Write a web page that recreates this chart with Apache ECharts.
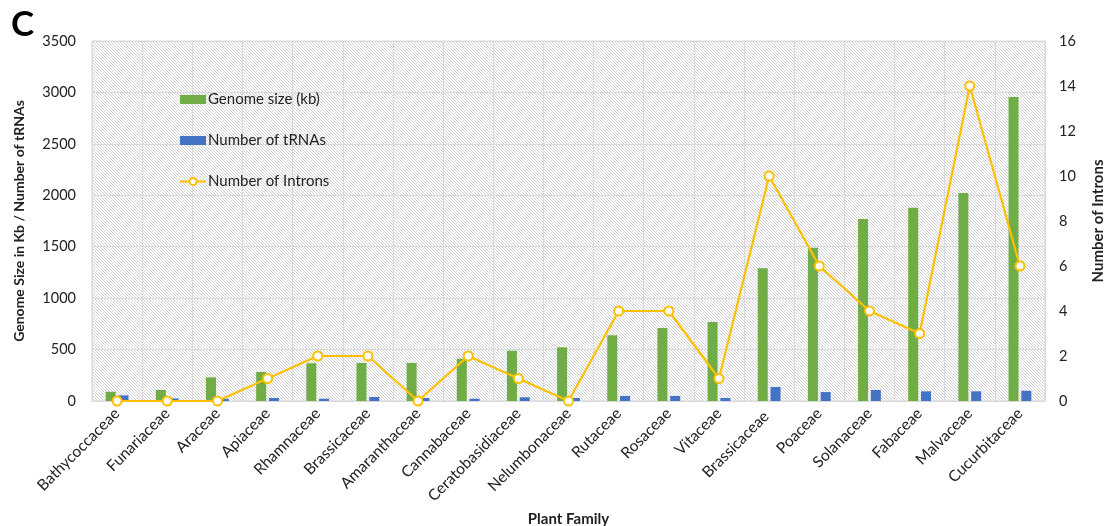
<!DOCTYPE html>
<html><head><meta charset="utf-8">
<script src="https://cdn.jsdelivr.net/npm/echarts@6/dist/echarts.min.js"></script>
<style>html,body{margin:0;padding:0;background:#fff}#c{width:1114px;height:526px}</style>
</head><body><div id="c"></div>
<script>
const categories = ['Bathycoccaceae','Funariaceae','Araceae','Apiaceae','Rhamnaceae','Brassicaceae','Amaranthaceae','Cannabaceae','Ceratobasidiaceae','Nelumbonaceae','Rutaceae','Rosaceae','Vitaceae','Brassicaceae ','Poaceae','Solanaceae','Fabaceae','Malvaceae','Cucurbitaceae'];
const genomeSize = [90,107,230,282,367,370,370,411,489,522,639,710,768,1290,1491,1769,1880,2022,2956];
const tRNAs = [55,25,22,29,22,39,29,22,36,29,49,49,29,136,87,107,94,94,100];
const introns = [0,0,0,1,2,2,0,2,1,0,4,4,1,10,6,4,3,14,6];
const leftTicks = [0,500,1000,1500,2000,2500,3000,3500];
const rightTicks = [0,2,4,6,8,10,12,14,16];

const FONT = 'Lato';
// hatch pattern
const pc = document.createElement('canvas');
pc.width = 6; pc.height = 6;
const pctx = pc.getContext('2d');
pctx.fillStyle = '#ffffff'; pctx.fillRect(0,0,6,6);
pctx.strokeStyle = '#d2d2d2'; pctx.lineWidth = 1;
for (let k=-6;k<=12;k+=3){ pctx.beginPath(); pctx.moveTo(k,0); pctx.lineTo(k+6,6); pctx.stroke(); }

const chart = echarts.init(document.getElementById('c'));
chart.setOption({
  animation:false,
  textStyle:{fontFamily:FONT},
  title:{text:'C',left:6,top:2,textStyle:{fontSize:35,fontWeight:'bold',color:'#000',fontFamily:FONT}},
  grid:{left:92,right:69,top:41,bottom:125,outerBoundsMode:'none',containLabel:false,show:true,backgroundColor:{image:pc,repeat:'repeat'},borderColor:'#d9d9d9',borderWidth:1},
  legend:{orient:'vertical',left:174,top:87,itemGap:26,itemWidth:26,itemHeight:9,
    textStyle:{fontSize:15,color:'#222',fontFamily:FONT,padding:[0,0,0,-3]},
    data:[{name:'Genome size (kb)',icon:'rect'},{name:'Number of tRNAs',icon:'rect'},{name:'Number of Introns'}]},
  xAxis:{type:'category',data:categories,
    axisLine:{lineStyle:{color:'#d9d9d9'}},axisTick:{show:false},
    splitLine:{show:true,interval:0,lineStyle:{color:'#d9d9d9'}},
    axisLabel:{interval:0,rotate:45,fontSize:15.5,color:'#222',fontFamily:FONT,margin:10},
    name:'Plant Family',nameLocation:'middle',nameGap:99,
    nameTextStyle:{fontWeight:'bold',fontSize:15,color:'#222',fontFamily:FONT}},
  yAxis:[{type:'value',min:0,max:3500,interval:500,
    axisLine:{show:false},axisTick:{show:false},
    splitLine:{lineStyle:{color:'#d9d9d9'}},
    axisLabel:{fontSize:14.5,color:'#222',fontFamily:FONT,margin:16,formatter:v=>leftTicks.includes(v)?String(v):''},
    name:'Genome Size in Kb / Number of tRNAs',nameLocation:'middle',nameGap:66,nameRotate:90,
    nameTextStyle:{fontWeight:'bold',fontSize:14,color:'#222',fontFamily:FONT}},
   {type:'value',min:0,max:16,interval:2,position:'right',
    axisLine:{show:false},axisTick:{show:false},splitLine:{show:false},
    axisLabel:{fontSize:14.5,color:'#222',fontFamily:FONT,margin:14,formatter:v=>rightTicks.includes(v)?String(v):''},
    name:'Number of Introns',nameLocation:'middle',nameGap:46,nameRotate:90,
    nameTextStyle:{fontWeight:'bold',fontSize:15,color:'#222',fontFamily:FONT}}],
  series:[
    {name:'Genome size (kb)',type:'bar',data:genomeSize,barWidth:10,barGap:'28%',itemStyle:{color:'#70AD47'}},
    {name:'Number of tRNAs',type:'bar',data:tRNAs,barWidth:10,itemStyle:{color:'#4472C4'}},
    {name:'Number of Introns',type:'line',yAxisIndex:1,data:introns,symbol:'circle',symbolSize:9,
     lineStyle:{color:'#FFC000',width:2.2},itemStyle:{color:'#fff',borderColor:'#FFC000',borderWidth:2},z:5}
  ]
});
</script></body></html>
